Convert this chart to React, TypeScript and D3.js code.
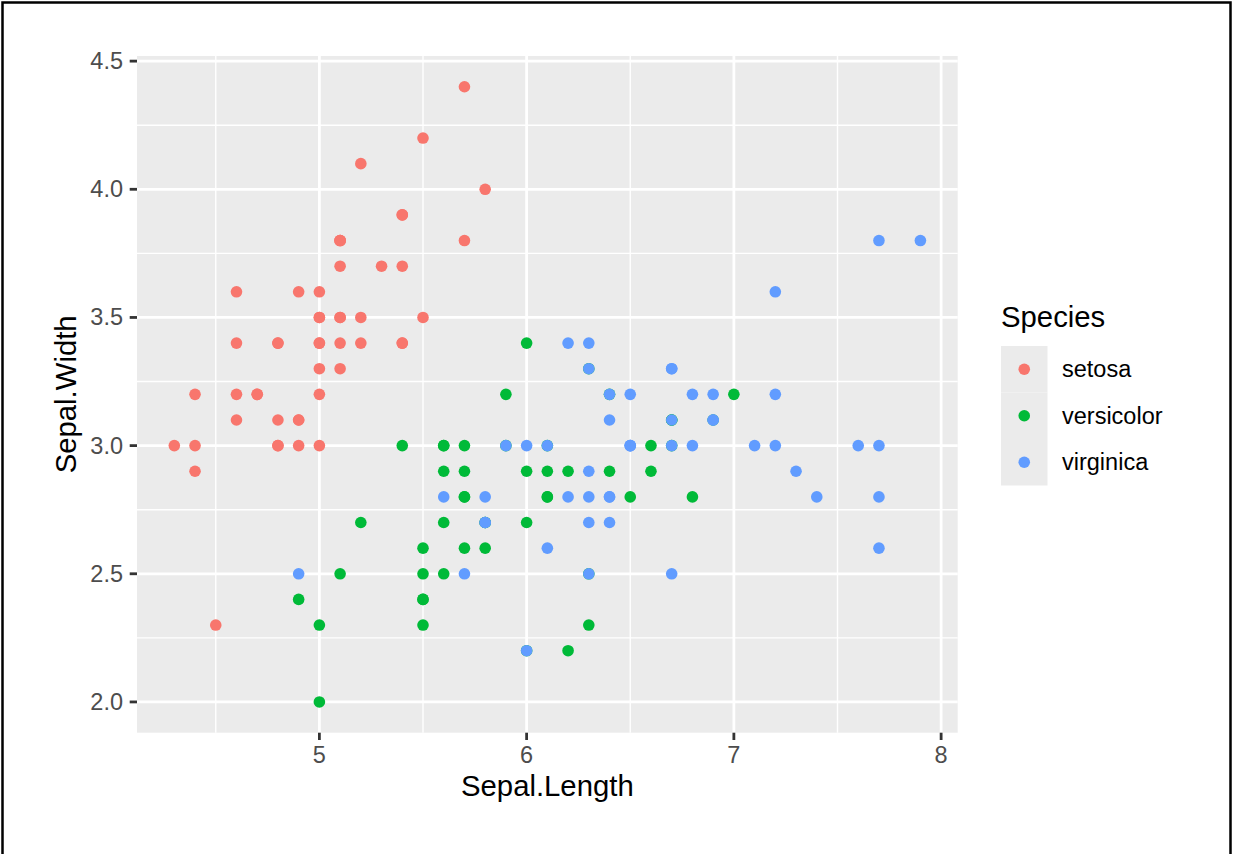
import * as d3 from "d3";

// iris: Sepal.Length / Sepal.Width by species
const setosaLength = [5.1, 4.9, 4.7, 4.6, 5.0, 5.4, 4.6, 5.0, 4.4, 4.9, 5.4, 4.8, 4.8, 4.3, 5.8, 5.7, 5.4, 5.1, 5.7, 5.1, 5.4, 5.1, 4.6, 5.1, 4.8, 5.0, 5.0, 5.2, 5.2, 4.7, 4.8, 5.4, 5.2, 5.5, 4.9, 5.0, 5.5, 4.9, 4.4, 5.1, 5.0, 4.5, 4.4, 5.0, 5.1, 4.8, 5.1, 4.6, 5.3, 5.0];
const setosaWidth = [3.5, 3.0, 3.2, 3.1, 3.6, 3.9, 3.4, 3.4, 2.9, 3.1, 3.7, 3.4, 3.0, 3.0, 4.0, 4.4, 3.9, 3.5, 3.8, 3.8, 3.4, 3.7, 3.6, 3.3, 3.4, 3.0, 3.4, 3.5, 3.4, 3.2, 3.1, 3.4, 4.1, 4.2, 3.1, 3.2, 3.5, 3.6, 3.0, 3.4, 3.5, 2.3, 3.2, 3.5, 3.8, 3.0, 3.8, 3.2, 3.7, 3.3];

const versicolorLength = [7.0, 6.4, 6.9, 5.5, 6.5, 5.7, 6.3, 4.9, 6.6, 5.2, 5.0, 5.9, 6.0, 6.1, 5.6, 6.7, 5.6, 5.8, 6.2, 5.6, 5.9, 6.1, 6.3, 6.1, 6.4, 6.6, 6.8, 6.7, 6.0, 5.7, 5.5, 5.5, 5.8, 6.0, 5.4, 6.0, 6.7, 6.3, 5.6, 5.5, 5.5, 6.1, 5.8, 5.0, 5.6, 5.7, 5.7, 6.2, 5.1, 5.7];
const versicolorWidth = [3.2, 3.2, 3.1, 2.3, 2.8, 2.8, 3.3, 2.4, 2.9, 2.7, 2.0, 3.0, 2.2, 2.9, 2.9, 3.1, 3.0, 2.7, 2.2, 2.5, 3.2, 2.8, 2.5, 2.8, 2.9, 3.0, 2.8, 3.0, 2.9, 2.6, 2.4, 2.4, 2.7, 2.7, 3.0, 3.4, 3.1, 2.3, 3.0, 2.5, 2.6, 3.0, 2.6, 2.3, 2.7, 3.0, 2.9, 2.9, 2.5, 2.8];

const virginicaLength = [6.3, 5.8, 7.1, 6.3, 6.5, 7.6, 4.9, 7.3, 6.7, 7.2, 6.5, 6.4, 6.8, 5.7, 5.8, 6.4, 6.5, 7.7, 7.7, 6.0, 6.9, 5.6, 7.7, 6.3, 6.7, 7.2, 6.2, 6.1, 6.4, 7.2, 7.4, 7.9, 6.4, 6.3, 6.1, 7.7, 6.3, 6.4, 6.0, 6.9, 6.7, 6.9, 5.8, 6.8, 6.7, 6.7, 6.3, 6.5, 6.2, 5.9];
const virginicaWidth = [3.3, 2.7, 3.0, 2.9, 3.0, 3.0, 2.5, 2.9, 2.5, 3.6, 3.2, 2.7, 3.0, 2.5, 2.8, 3.2, 3.0, 3.8, 2.6, 2.2, 3.2, 2.8, 2.8, 2.7, 3.3, 3.2, 2.8, 3.0, 2.8, 3.0, 2.8, 3.8, 2.8, 2.8, 2.6, 3.0, 3.4, 3.1, 3.0, 3.1, 3.1, 3.1, 2.7, 3.2, 3.3, 3.0, 2.5, 3.0, 3.4, 3.0];

const speciesNames = ["setosa", "versicolor", "virginica"];
const speciesColors = ["#F8766D", "#00BA38", "#619CFF"];

const xTicks = [5, 6, 7, 8];
const xMinor = [4.5, 5.5, 6.5, 7.5];
const yTicks = [2.0, 2.5, 3.0, 3.5, 4.0, 4.5];
const yMinor = [2.25, 2.75, 3.25, 3.75, 4.25];

const FONT = "'Liberation Sans', Arial, Helvetica, sans-serif";

export default function App() {
  const W = 1237;
  const H = 854;
  const panel = { left: 137, top: 56, right: 957.7, bottom: 732.7 };

  const allX = [...setosaLength, ...versicolorLength, ...virginicaLength];
  const allY = [...setosaWidth, ...versicolorWidth, ...virginicaWidth];
  const [x0, x1] = d3.extent(allX) as [number, number];
  const [y0, y1] = d3.extent(allY) as [number, number];
  const xPad = (x1 - x0) * 0.05;
  const yPad = (y1 - y0) * 0.05;

  const x = d3.scaleLinear().domain([x0 - xPad, x1 + xPad]).range([panel.left, panel.right]);
  const y = d3.scaleLinear().domain([y0 - yPad, y1 + yPad]).range([panel.bottom, panel.top]);

  const groups = [
    { xs: setosaLength, ys: setosaWidth },
    { xs: versicolorLength, ys: versicolorWidth },
    { xs: virginicaLength, ys: virginicaWidth },
  ];

  const pw = panel.right - panel.left;
  const ph = panel.bottom - panel.top;

  const legendX = 1001;
  const legendTop = 346;
  const keyH = 46.5;
  const keyW = 46.5;

  return (
    <svg
      width={W}
      height={H}
      style={{ position: "absolute", left: 0, top: 0, display: "block", background: "#fff" }}
      fontFamily={FONT}
    >
      <rect x={0} y={0} width={W} height={H} fill="#fff" />
      <rect x={2.5} y={2.5} width={1228} height={900} fill="none" stroke="#000" strokeWidth={2.5} />

      {/* panel */}
      <rect x={panel.left} y={panel.top} width={pw} height={ph} fill="#EBEBEB" />
      {xMinor.map((v) => (
        <line key={"xm" + v} x1={x(v)} x2={x(v)} y1={panel.top} y2={panel.bottom} stroke="#fff" strokeWidth={1.4} />
      ))}
      {yMinor.map((v) => (
        <line key={"ym" + v} x1={panel.left} x2={panel.right} y1={y(v)} y2={y(v)} stroke="#fff" strokeWidth={1.4} />
      ))}
      {xTicks.map((v) => (
        <line key={"xg" + v} x1={x(v)} x2={x(v)} y1={panel.top} y2={panel.bottom} stroke="#fff" strokeWidth={2.8} />
      ))}
      {yTicks.map((v) => (
        <line key={"yg" + v} x1={panel.left} x2={panel.right} y1={y(v)} y2={y(v)} stroke="#fff" strokeWidth={2.8} />
      ))}

      {/* points */}
      {groups.map((g, gi) =>
        g.xs.map((xv, i) => (
          <circle key={gi + "-" + i} cx={x(xv)} cy={y(g.ys[i])} r={5.8} fill={speciesColors[gi]} />
        ))
      )}

      {/* x axis */}
      {xTicks.map((v) => (
        <g key={"xt" + v}>
          <line x1={x(v)} x2={x(v)} y1={panel.bottom} y2={panel.bottom + 7.3} stroke="#333" strokeWidth={2.8} />
          <text x={x(v)} y={763} textAnchor="middle" fontSize={23.5} fill="#4D4D4D">
            {String(v)}
          </text>
        </g>
      ))}
      {/* y axis */}
      {yTicks.map((v) => (
        <g key={"yt" + v}>
          <line x1={panel.left - 7.3} x2={panel.left} y1={y(v)} y2={y(v)} stroke="#333" strokeWidth={2.8} />
          <text x={123} y={y(v)} dy="0.34em" textAnchor="end" fontSize={23.5} fill="#4D4D4D">
            {d3.format(".1f")(v)}
          </text>
        </g>
      ))}

      <text x={(panel.left + panel.right) / 2} y={796} textAnchor="middle" fontSize={29.3} fill="#000">
        Sepal.Length
      </text>
      <text
        transform={`translate(76, ${(panel.top + panel.bottom) / 2}) rotate(-90)`}
        textAnchor="middle"
        fontSize={29.3}
        fill="#000"
      >
        Sepal.Width
      </text>

      {/* legend */}
      <text x={legendX} y={327} fontSize={29.3} fill="#000">
        Species
      </text>
      {speciesNames.map((name, i) => {
        const ky = legendTop + i * keyH;
        return (
          <g key={name}>
            <rect x={legendX} y={ky} width={keyW} height={keyH} fill="#EBEBEB" />
            <circle cx={legendX + keyW / 2} cy={ky + keyH / 2} r={5.8} fill={speciesColors[i]} />
            <text x={1062} y={ky + keyH / 2} dy="0.35em" fontSize={23.5} fill="#000">
              {name}
            </text>
          </g>
        );
      })}
    </svg>
  );
}
